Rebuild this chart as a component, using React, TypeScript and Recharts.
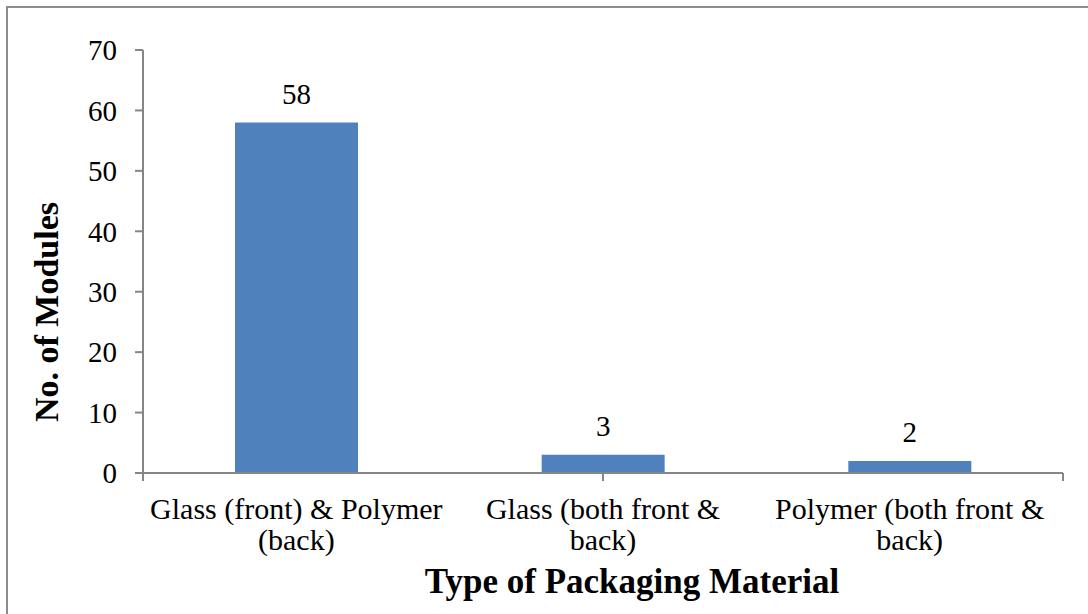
import React from 'react';
import { BarChart, Bar, XAxis, YAxis, LabelList, Label } from 'recharts';

const categories = ['Glass (front) & Polymer (back)', 'Glass (both front & back)', 'Polymer (both front & back)'];
const categoryLines = [
  ['Glass (front) & Polymer', '(back)'],
  ['Glass (both front &', 'back)'],
  ['Polymer (both front &', 'back)'],
];
const modules = [58, 3, 2];
const yTicks = [0, 10, 20, 30, 40, 50, 60, 70];
const edgeTicks = [0, 1, 2, 3];

const data = categories.map((name, i) => ({ name, value: modules[i] }));

const FONT = 'Liberation Serif, Times New Roman, serif';
const AXIS = '#868686';

const CategoryTick = (props: any) => {
  const { x, y, payload } = props;
  const lines = categoryLines[payload.index] || [String(payload.value)];
  return (
    <text x={x} y={y} textAnchor="middle" fontFamily={FONT} fontSize={30} fill="#000">
      {lines.map((l, i) => (
        <tspan key={i} x={x} dy={i === 0 ? 37 : 31}>{l}</tspan>
      ))}
    </text>
  );
};

const App: React.FC = () => {
  return (
    <div style={{ position: 'fixed', left: 0, top: 0, width: 1088, height: 614, overflow: 'hidden', background: '#fff' }}>
      <div style={{ position: 'absolute', left: 6, top: 6, width: 1200, height: 800, border: '2px solid #8c8c8c' }} />
      <div style={{ position: 'absolute', left: 0, top: 0 }}>
        <BarChart width={1088} height={614} data={data} margin={{ top: 50, right: 25, bottom: 0, left: 0 }} barCategoryGap="30%">
          {/* boundary ticks, like the category edges in the original */}
          <XAxis
            xAxisId="a"
            type="number"
            domain={[0, 3]}
            ticks={edgeTicks}
            height={1}
            stroke={AXIS}
            strokeWidth={2}
            tickSize={8}
            tickFormatter={() => ''}
          />
          <XAxis
            xAxisId="b"
            dataKey="name"
            height={140}
            axisLine={false}
            tickLine={false}
            interval={0}
            tick={<CategoryTick />}
          >
            <Label
              content={() => (
                <text x={632} y={593} textAnchor="middle" fontFamily={FONT} fontSize={35} fontWeight="bold" fill="#000">
                  Type of Packaging Material
                </text>
              )}
            />
          </XAxis>
          <YAxis
            width={143}
            domain={[0, 70]}
            ticks={yTicks}
            interval={0}
            stroke={AXIS}
            strokeWidth={2}
            tickSize={8}
            tickMargin={18}
            tick={{ fill: '#000', fontFamily: FONT, fontSize: 29 }}
          >
            <Label
              content={() => (
                <text
                  x={58}
                  y={312}
                  transform="rotate(-90 58 312)"
                  textAnchor="middle"
                  fontFamily={FONT}
                  fontSize={34}
                  fontWeight="bold"
                  fill="#000"
                >
                  No. of Modules
                </text>
              )}
            />
          </YAxis>
          <Bar dataKey="value" xAxisId="b" fill="#4f81bd" isAnimationActive={false}>
            <LabelList dataKey="value" position="top" offset={19} fill="#000" fontFamily={FONT} fontSize={29} />
          </Bar>
        </BarChart>
      </div>
    </div>
  );
};

export default App;
